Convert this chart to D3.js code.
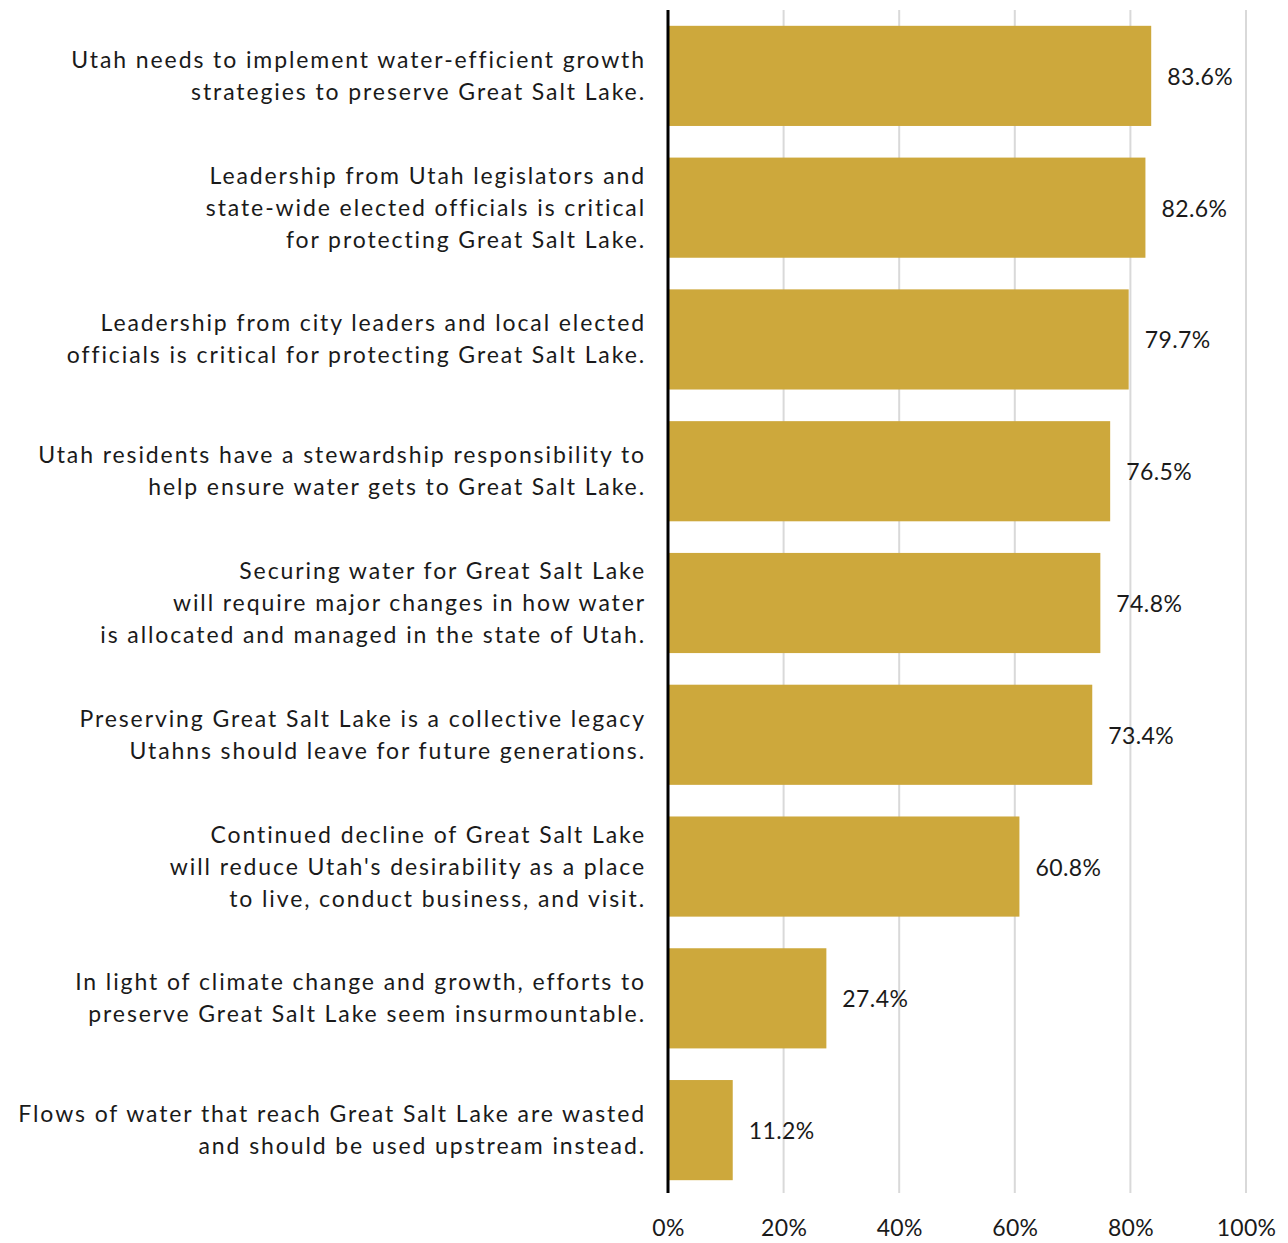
<!DOCTYPE html>
<html>
<head>
<meta charset="utf-8">
<script src="https://cdn.jsdelivr.net/npm/d3@7/dist/d3.min.js"></script>
<style>
  html, body { margin: 0; padding: 0; background: #fff; }
  svg text { font-family: Lato, "Open Sans", sans-serif; fill: #1a1a1a; }
</style>
</head>
<body>
<svg id="chart" width="1288" height="1243"></svg>
<script>
// Survey statements (each entry is a list of wrapped lines)
const categories = [
  ["Utah needs to implement water-efficient growth", "strategies to preserve Great Salt Lake."],
  ["Leadership from Utah legislators and", "state-wide elected officials is critical", "for protecting Great Salt Lake."],
  ["Leadership from city leaders and local elected", "officials is critical for protecting Great Salt Lake."],
  ["Utah residents have a stewardship responsibility to", "help ensure water gets to Great Salt Lake."],
  ["Securing water for Great Salt Lake", "will require major changes in how water", "is allocated and managed in the state of Utah."],
  ["Preserving Great Salt Lake is a collective legacy", "Utahns should leave for future generations."],
  ["Continued decline of Great Salt Lake", "will reduce Utah's desirability as a place", "to live, conduct business, and visit."],
  ["In light of climate change and growth, efforts to", "preserve Great Salt Lake seem insurmountable."],
  ["Flows of water that reach Great Salt Lake are wasted", "and should be used upstream instead."]
];
// Share of respondents agreeing (%)
const values = [83.6, 82.6, 79.7, 76.5, 74.8, 73.4, 60.8, 27.4, 11.2];
const tickValues = [0, 20, 40, 60, 80, 100];

const svg = d3.select("#chart");
const plotLeft = 668, plotRight = 1246, plotTop = 10, plotBottom = 1196;

const x = d3.scaleLinear().domain([0, 100]).range([plotLeft, plotRight]);
const y = d3.scaleBand()
  .domain(d3.range(categories.length))
  .range([plotTop, plotBottom])
  .paddingInner(0.24)
  .paddingOuter(0.12);

// Vertical gridlines
svg.append("g").selectAll("line")
  .data(tickValues.filter(d => d > 0))
  .join("line")
  .attr("x1", d => x(d)).attr("x2", d => x(d))
  .attr("y1", plotTop).attr("y2", 1193)
  .attr("stroke", "#d9d9d9").attr("stroke-width", 2);

// Bars
svg.append("g").selectAll("rect")
  .data(values)
  .join("rect")
  .attr("x", x(0))
  .attr("y", (d, i) => y(i))
  .attr("width", d => x(d) - x(0))
  .attr("height", y.bandwidth())
  .attr("fill", "#cda83c");

// Value labels
svg.append("g").selectAll("text")
  .data(values)
  .join("text")
  .attr("x", d => x(d) + 16)
  .attr("y", (d, i) => y(i) + y.bandwidth() / 2 + 1)
  .attr("dy", "0.35em")
  .attr("font-size", 23)
  .attr("letter-spacing", "0.4px")
  .text(d => d.toFixed(1) + "%");

// Category labels
const lineH = 32;
const catG = svg.append("g");
categories.forEach((lines, i) => {
  const cy = y(i) + y.bandwidth() / 2;
  const t = catG.append("text")
    .attr("text-anchor", "end")
    .attr("font-size", 23)
    .attr("letter-spacing", "1.9px");
  lines.forEach((ln, j) => {
    t.append("tspan")
      .attr("x", 646)
      .attr("y", cy + (j - (lines.length - 1) / 2) * lineH)
      .attr("dy", "0.35em")
      .text(ln);
  });
});

// Bottom axis tick labels
const xAxis = d3.axisBottom(x).tickValues(tickValues).tickSize(0).tickFormat(d => d + "%");
const ax = svg.append("g").attr("transform", "translate(0,1217)").call(xAxis);
ax.select(".domain").remove();
ax.selectAll("text").attr("font-size", 23).attr("letter-spacing", "0.3px")
  .style("font-family", "Lato, 'Open Sans', sans-serif").attr("fill", "#1a1a1a");

// Baseline axis
svg.append("line")
  .attr("x1", x(0)).attr("x2", x(0))
  .attr("y1", plotTop).attr("y2", 1193)
  .attr("stroke", "#000").attr("stroke-width", 3);
</script>
</body>
</html>
